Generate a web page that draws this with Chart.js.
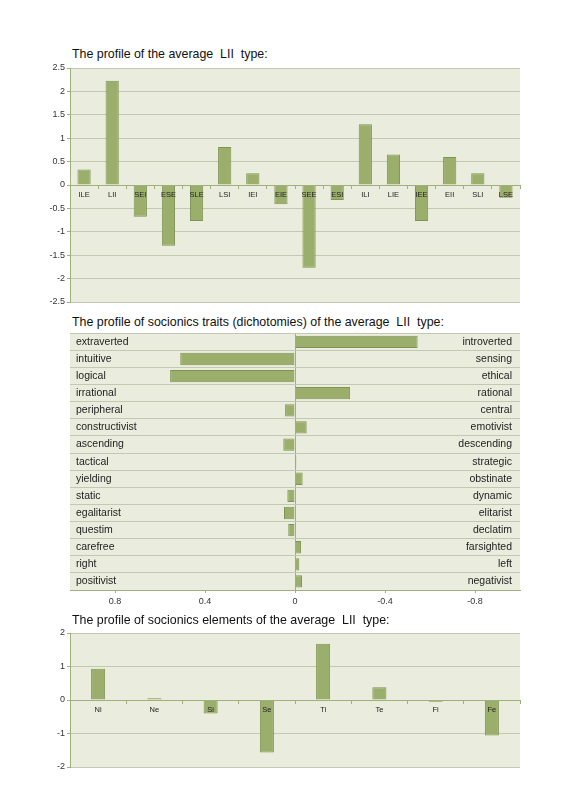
<!DOCTYPE html>
<html>
<head>
<meta charset="utf-8">
<script src="https://cdn.jsdelivr.net/npm/chart.js@4.4.1/dist/chart.umd.min.js"></script>
<style>
  body { margin: 0; background: #fff; width: 566px; height: 800px; position: relative; font-family: "Liberation Sans", Arial, sans-serif; }
  .title { position: absolute; left: 72px; font-size: 12.4px; line-height: 13px; color: #111; white-space: pre; }
  canvas { position: absolute; left: 0; }
</style>
</head>
<body>
<div class="title" style="top:48px">The profile of the average  LII  type:</div>
<canvas id="typeChart" width="566" height="250" style="top:60px"></canvas>

<div class="title" style="top:316px">The profile of socionics traits (dichotomies) of the average  LII  type:</div>
<canvas id="traitChart" width="566" height="294" style="top:321px"></canvas>

<div class="title" style="top:614px">The profile of socionics elements of the average  LII  type:</div>
<canvas id="elemChart" width="566" height="150" style="top:625px"></canvas>

<script>
// types
const types = ['ILE', 'LII', 'SEI', 'ESE', 'SLE', 'LSI', 'IEI', 'EIE', 'SEE', 'ESI', 'ILI', 'LIE', 'IEE', 'EII', 'SLI', 'LSE']
const typeValues = [0.33, 2.23, -0.68, -1.3, -0.77, 0.81, 0.25, -0.41, -1.77, -0.32, 1.3, 0.65, -0.77, 0.6, 0.25, -0.27]

// dichotomies (positive value -> left trait)
const traitsLeft = ['extraverted', 'intuitive', 'logical', 'irrational', 'peripheral', 'constructivist', 'ascending', 'tactical', 'yielding', 'static', 'egalitarist', 'questim', 'carefree', 'right', 'positivist']
const traitsRight = ['introverted', 'sensing', 'ethical', 'rational', 'central', 'emotivist', 'descending', 'strategic', 'obstinate', 'dynamic', 'elitarist', 'declatim', 'farsighted', 'left', 'negativist']
const traitValues = [-0.545, 0.51, 0.555, -0.245, 0.044, -0.052, 0.052, -0.006, -0.034, 0.034, 0.049, 0.03, -0.027, -0.019, -0.031]
const traitTicks = [0.8, 0.4, 0, -0.4, -0.8]

// elements
const elements = ['Ni', 'Ne', 'Si', 'Se', 'Ti', 'Te', 'Fi', 'Fe']
const elemValues = [0.93, 0.05, -0.4, -1.57, 1.68, 0.38, -0.05, -1.06]

const barFill = '#9bae6c'
const barBorder = '#7f9452'
const axisGreen = '#9fb07a'
const gridGray = '#c3c8b2'
const plotBg = '#eaeddd'
const textCol = '#333'
const font = '"Liberation Sans", Arial, sans-serif'

Chart.defaults.font.family = font
Chart.defaults.color = textCol
Chart.defaults.animation = false

const plotBackground = {
    id: 'plotBackground',
    beforeDraw(chart) {
        const a = chart.chartArea
        const ctx = chart.ctx
        ctx.save()
        ctx.fillStyle = plotBg
        ctx.fillRect(a.left, a.top, a.right - a.left, a.bottom - a.top)
        ctx.restore()
    }
}

function columnChart(id, labels, values, yMin, yMax, step, barPct) {
    const ctx = document.getElementById(id).getContext('2d')
    return new Chart(ctx, {
        type: 'bar',
        data: {
            labels: labels,
            datasets: [{
                data: values,
                backgroundColor: barFill,
                borderColor: barBorder,
                borderWidth: 1,
                barPercentage: barPct,
                categoryPercentage: 1,
            }]
        },
        options: {
            responsive: false,
            layout: { padding: { top: 8, right: 46, bottom: 8, left: 0 } },
            plugins: { legend: { display: false }, tooltip: { enabled: false } },
            scales: {
                x: {
                    position: { y: 0 },
                    // z > 0 so the zero line and labels sit on top of the bars
                    grid: { drawOnChartArea: false, tickLength: 3, tickColor: axisGreen, z: 1 },
                    border: { color: axisGreen, z: 1 },
                    ticks: { font: { size: 7.5 }, color: '#222', padding: 2, maxRotation: 0, autoSkip: false, z: 1 },
                },
                y: {
                    min: yMin,
                    max: yMax,
                    ticks: { stepSize: step, font: { size: 9 }, padding: 2, callback: (v) => String(Math.round(v * 10) / 10) },
                    grid: {
                        color: (c) => (c.tick && c.tick.value === 0) ? 'rgba(0,0,0,0)' : gridGray,
                        tickLength: 3,
                        tickColor: axisGreen,
                    },
                    border: { color: axisGreen },
                    afterFit: (s) => { s.width = 70 },
                }
            }
        },
        plugins: [plotBackground]
    })
}

columnChart('typeChart', types, typeValues, -2.5, 2.5, 0.5, 0.47)
columnChart('elemChart', elements, elemValues, -2, 2, 1, 0.25)

// traits chart, horizontal
const traitCtx = document.getElementById('traitChart').getContext('2d')
new Chart(traitCtx, {
    type: 'bar',
    data: {
        labels: traitsLeft,
        datasets: [{
            data: traitValues,
            backgroundColor: barFill,
            borderColor: barBorder,
            borderWidth: 1,
            barPercentage: 0.72,
            categoryPercentage: 1,
        }]
    },
    options: {
        indexAxis: 'y',
        responsive: false,
        layout: { padding: { top: 4, right: 46, bottom: 5, left: 70 } },
        plugins: { legend: { display: false }, tooltip: { enabled: false } },
        scales: {
            x: {
                reverse: true,
                min: -1,
                max: 1,
                afterBuildTicks: (s) => { s.ticks = traitTicks.map(v => ({ value: v })) },
                ticks: { font: { size: 9 }, padding: 3, callback: (v) => String(v) },
                grid: {
                    color: (c) => (c.tick && c.tick.value === 0) ? axisGreen : 'rgba(0,0,0,0)',
                    tickLength: 3,
                    tickColor: axisGreen,
                },
                border: { color: axisGreen },
                afterFit: (s) => { s.height = 20 },
            },
            y: {
                position: 'left',
                ticks: { mirror: true, padding: 6, font: { size: 10.5 }, color: '#222' },
                grid: { offset: true, drawTicks: false, color: gridGray },
                border: { display: false },
                afterFit: (s) => { s.width = 0 },
            },
            y2: {
                type: 'category',
                position: 'right',
                labels: traitsRight,
                offset: true,
                ticks: { mirror: true, padding: -8, font: { size: 10.5 }, color: '#222' },
                grid: { drawOnChartArea: false, drawTicks: false },
                border: { display: false },
                afterFit: (s) => { s.width = 0 },
            }
        }
    },
    plugins: [plotBackground]
})
</script>
</body>
</html>
